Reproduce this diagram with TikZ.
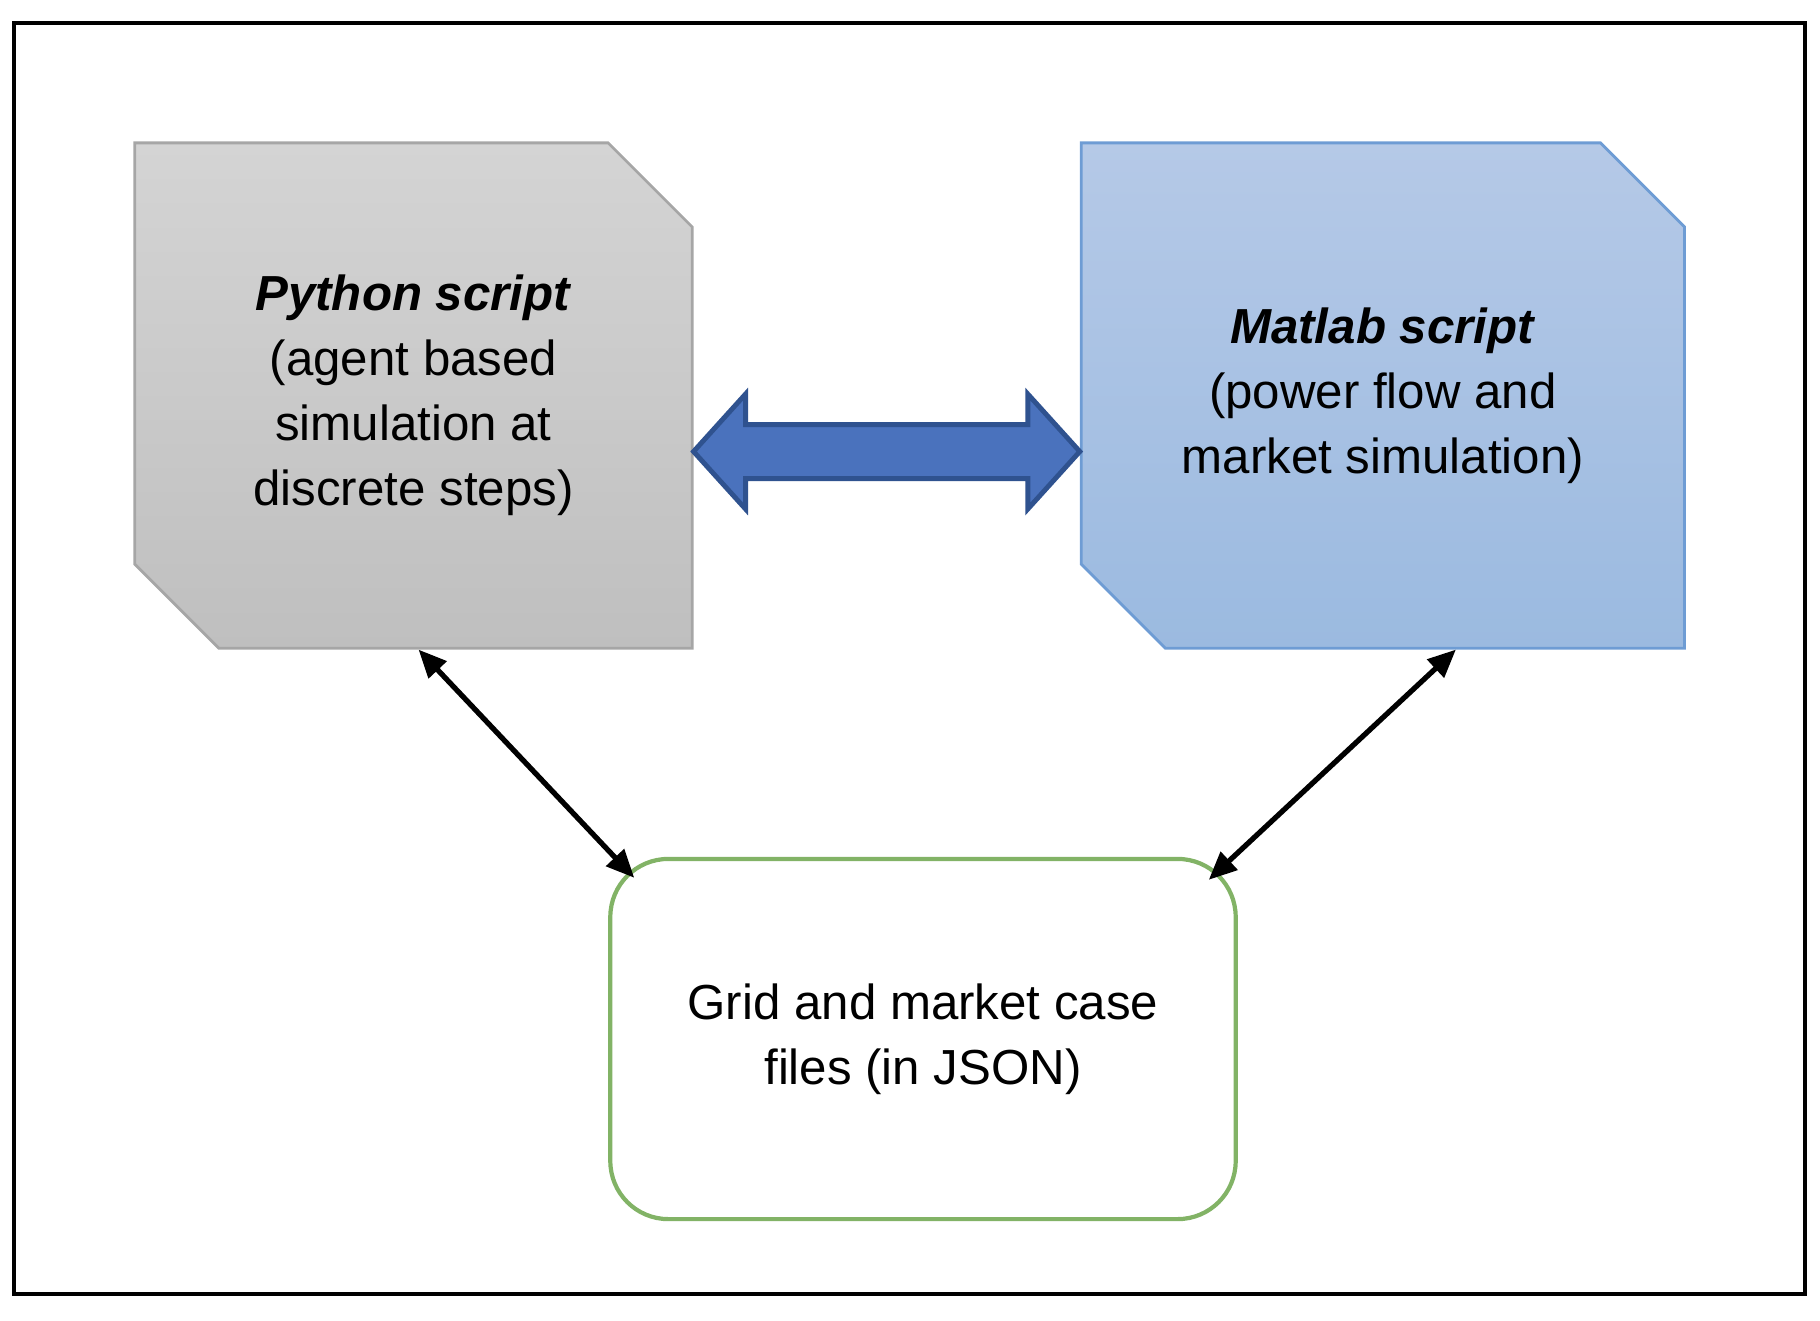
\documentclass[tikz,border=0pt]{standalone}
\usepackage{fontspec}
\setmainfont{Liberation Sans}
\usepackage{tikz}
\usepackage{xcolor}
\usetikzlibrary{shapes.misc, arrows.meta, positioning, calc}
\definecolor{simGrayTop}{RGB}{212, 212, 212}
\definecolor{simGrayBottom}{RGB}{191, 191, 191}
\definecolor{simGrayLine}{RGB}{166, 166, 166}
\definecolor{simBlueTop}{RGB}{181, 201, 231}
\definecolor{simBlueBottom}{RGB}{155, 186, 224}
\definecolor{simBlueLine}{RGB}{110, 156, 212}
\definecolor{simArrowFill}{RGB}{74, 114, 189}
\definecolor{simArrowLine}{RGB}{47, 82, 143}
\definecolor{simGreen}{RGB}{130, 179, 102}

\begin{document}
\begin{tikzpicture}[
        x=0.01cm, y=-0.01cm,
        script/.style={chamfered rectangle, chamfered rectangle corners={north east, south west}, chamfered rectangle xsep=0.42cm, chamfered rectangle ysep=0.42cm, minimum height=5.05cm, inner sep=0pt, align=center, line width=0.8pt, font=\fontsize{14}{18.5}\selectfont},
        casefile/.style={rectangle, rounded corners=0.58cm, draw=simGreen, line width=1.2pt, minimum width=6.25cm, minimum height=3.6cm, align=center, font=\fontsize{14}{18.5}\selectfont},
        linkarrow/.style={fill=simArrowFill, draw=simArrowLine, line width=1.4pt, line join=miter},
        dataarrow/.style={{Triangle[length=2.8mm, width=2.4mm]}-{Triangle[length=2.8mm, width=2.4mm]}, line width=1.5pt, black}
    ]
        \useasboundingbox (0,0) rectangle (1820,1320);
        \draw[line width=1pt] (14,23) rectangle (1805,1294);

        % Scripts
        \node[script, draw=simGrayLine, top color=simGrayTop, bottom color=simGrayBottom, minimum width=5.57cm] (py) at (413.5,395.5) {\textbf{\textit{Python script}}\\(agent based\\simulation at\\discrete steps)};
        \node[script, draw=simBlueLine, top color=simBlueTop, bottom color=simBlueBottom, minimum width=6.03cm, right=3.86cm of py] (mat) {\textbf{\textit{Matlab script}}\\(power flow and\\market simulation)};

        % Case files
        \node[casefile] (files) at (923,1039) {Grid and market case\\files (in JSON)};

        % Exchange between scripts
        \coordinate (la) at ([yshift=-0.56cm]py.east);
        \coordinate (ra) at ([yshift=-0.56cm]mat.west);
        \draw[linkarrow] (la) -- ++(52,-57.5) -- ++(0,30.5) -- ($(ra)+(-52,-27)$) -- ++(0,-30.5) -- (ra) -- ++(-52,57.5) -- ++(0,-30.5) -- ($(la)+(52,27)$) -- ++(0,30.5) -- cycle;

        \draw[dataarrow] ([xshift=0.05cm]py.south) -- ([xshift=0.26cm, yshift=-0.21cm]files.north west);
        \draw[dataarrow] ([xshift=0.73cm]mat.south) -- ([xshift=-0.29cm, yshift=-0.23cm]files.north east);
    \end{tikzpicture}
\end{document}
